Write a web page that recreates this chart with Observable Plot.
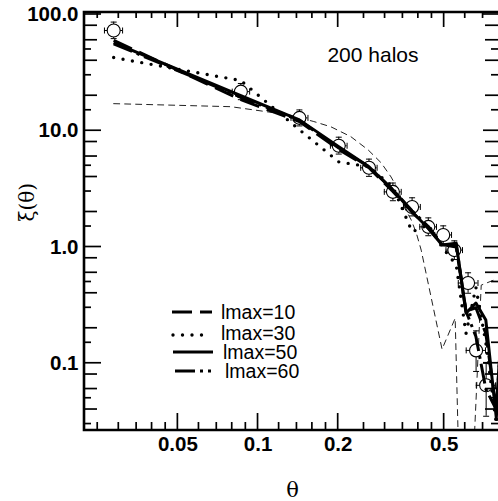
<!DOCTYPE html>
<html><head><meta charset="utf-8">
<script src="https://cdn.jsdelivr.net/npm/d3@7"></script>
<script src="https://cdn.jsdelivr.net/npm/@observablehq/plot@0.6"></script>
<style>body{margin:0;background:#fff} #chart{width:498px;height:501px}</style>
</head><body><div id="chart"></div>
<script>
// ---- observed points (open circles with error bars)
const thetaObs = [0.0287, 0.0862, 0.143, 0.201, 0.261, 0.321, 0.379, 0.436, 0.496, 0.546, 0.615, 0.659, 0.719];
const xiObs    = [72.8, 21.7, 12.9, 7.43, 4.80, 2.98, 2.21, 1.49, 1.27, 0.94, 0.49, 0.129, 0.0646];
const xiLo     = [62, 18.5, 11.0, 6.3, 4.05, 2.5, 1.85, 1.25, 1.06, 0.78, 0.40, 0.085, 0.035];
const xiHi     = [86, 25.5, 15.1, 8.8, 5.7, 3.55, 2.65, 1.78, 1.52, 1.13, 0.60, 0.19, 0.10];
const thetaLo  = [0.0265, 0.080, 0.133, 0.187, 0.243, 0.298, 0.352, 0.405, 0.461, 0.508, 0.565, 0.605, 0.66];
const thetaHi  = [0.031, 0.093, 0.154, 0.216, 0.280, 0.345, 0.407, 0.468, 0.533, 0.586, 0.67, 0.715, 0.78];

// ---- reconstructed curves
const seriesNames = ["lmax=10", "lmax=30", "lmax=50", "lmax=60"];
const lineTheta = [0.0287, 0.0862, 0.143, 0.201, 0.261, 0.321, 0.379, 0.436, 0.491, 0.555, 0.604, 0.658, 0.717, 0.785, 0.83];
const lmax10 = [60, 18.5, 12.0, 6.9, 4.8, 3.0, 2.0, 1.45, 1.05, 1.0, 0.28, 0.30, 0.18, 0.04, 0.3];
const lmax30 = [42.6, 27, 10.2, 5.4, 4.9, 3.3, 1.35, 1.55, 1.0, 0.7, 0.18, 0.45, 0.15, 0.03, 0.2];
const lmax50 = [57.4, 20.0, 12.4, 7.3, 4.9, 3.1, 2.0, 1.45, 1.04, 1.08, 0.27, 0.33, 0.235, 0.034, 0.3];
const lmax60 = [56, 19.5, 12.3, 7.1, 4.9, 3.1, 2.05, 1.5, 1.05, 1.05, 0.28, 0.17, 0.06, 0.04, 0.3];
const seriesValues = [lmax10, lmax30, lmax50, lmax60];

// ---- thin dashed reference curve
const modelTheta = [0.0287, 0.0791, 0.1306, 0.162, 0.188, 0.223, 0.259, 0.290, 0.316, 0.336, 0.354, 0.376, 0.393, 0.410, 0.491, 0.55, 0.574, 0.63, 0.689, 0.77];
const modelXi    = [17.1, 16.1, 13.7, 12.0, 10.8, 8.9, 6.85, 5.3, 4.0, 3.1, 2.2, 1.71, 1.32, 0.94, 0.132, 0.244, 0.005, 0.005, 0.47, 0.52];

// ---- ticks
const xMajor = [0.05, 0.1, 0.2, 0.5];
const xMinor = [0.025, 0.03, 0.035, 0.04, 0.045, 0.06, 0.07, 0.08, 0.09, 0.12, 0.14, 0.16, 0.18, 0.25, 0.3, 0.35, 0.4, 0.45, 0.6, 0.7];
const yMajor = [0.1, 1, 10, 100];
const yMinorLong = [0.04, 0.06, 0.08, 0.2, 0.4, 0.6, 0.8, 2, 4, 6, 8, 20, 40, 60, 80];
const yMinorShort = [0.03, 0.05, 0.15, 0.3, 0.5, 1.5, 3, 5, 15, 30, 50];

const styles = {
  "lmax=10": {dash: "20,8", cap: "butt", w: 3},
  "lmax=30": {dash: "0,9.5", cap: "round", w: 3.4},
  "lmax=50": {dash: null, cap: "butt", w: 3},
  "lmax=60": {dash: "20,5,3,5", cap: "butt", w: 3}
};

const obs = thetaObs.map((t, i) => ({t, xi: xiObs[i], lo: xiLo[i], hi: xiHi[i], tlo: thetaLo[i], thi: thetaHi[i]}));
const model = modelTheta.map((t, i) => ({t, v: modelXi[i]}));

const hCap = {draw(ctx, size) { const r = Math.sqrt(size / Math.PI); ctx.moveTo(-r, 0); ctx.lineTo(r, 0); }};
const vCap = {draw(ctx, size) { const r = Math.sqrt(size / Math.PI); ctx.moveTo(0, -r); ctx.lineTo(0, r); }};

function ticksMark(index, scales, values, dims) {
  const {x, y} = scales;
  const L = dims.marginLeft, T = dims.marginTop, R = dims.width - dims.marginRight, B = dims.height - dims.marginBottom;
  const g = d3.create("svg:g").attr("stroke", "black").attr("fill", "none").attr("stroke-width", 1.7);
  const ln = (x1, y1, x2, y2) => g.append("line").attr("x1", x1).attr("y1", y1).attr("x2", x2).attr("y2", y2);
  for (const v of xMajor) { const p = x(v); ln(p, B, p, B - 17); ln(p, T, p, T + 15); }
  for (const v of xMinor) { const p = x(v); if (p > L && p < R) { ln(p, B, p, B - 8); ln(p, T, p, T + 6); } }
  for (const v of yMajor) { const p = y(v); ln(L, p, L + 17, p); ln(R, p, R - 15, p); }
  for (const v of yMinorLong) { const p = y(v); if (p > T && p < B) { ln(L, p, L + 13, p); ln(R, p, R - 13, p); } }
  for (const v of yMinorShort) { const p = y(v); if (p > T && p < B) { ln(L, p, L + 7, p); ln(R, p, R - 7, p); } }
  g.append("path").attr("stroke-width", 2.6).attr("d", `M${R + 1},${T}H${L}V${B}H${R + 1}`);
  return g.node();
}

function legendMark(index, scales, values, dims) {
  const rows = [
    {y: 312, x1: 172, x2: 212, tx: 221, ty: 312},
    {y: 335, x1: 173, x2: 211, tx: 221, ty: 333},
    {y: 352, x1: 173, x2: 213, tx: 223, ty: 352},
    {y: 371, x1: 175, x2: 211, tx: 225, ty: 371}
  ];
  const g = d3.create("svg:g").attr("text-anchor", "start");
  seriesNames.forEach((name, i) => {
    const r = rows[i], s = styles[name];
    const l = g.append("line").attr("x1", r.x1).attr("x2", r.x2).attr("y1", r.y).attr("y2", r.y)
      .attr("stroke", "black").attr("stroke-width", s.w).attr("stroke-linecap", s.cap);
    if (s.dash) l.attr("stroke-dasharray", s.dash);
    g.append("text").attr("x", r.tx).attr("y", r.ty).attr("dy", "0.35em").attr("text-anchor", "start")
      .attr("font-size", 19.5).attr("font-family", "Liberation Sans, Arial, sans-serif").attr("fill", "black").text(name);
  });
  return g.node();
}

const lineMarks = seriesNames.map((name, k) => {
  const s = styles[name];
  const data = lineTheta.map((t, i) => ({t, v: seriesValues[k][i]}));
  return Plot.line(data, {x: "t", y: "v", stroke: "black", strokeWidth: s.w, strokeDasharray: s.dash ?? undefined,
    strokeLinecap: s.cap, strokeLinejoin: "round", clip: true});
});

const chart = Plot.plot({
  width: 498, height: 501,
  marginLeft: 84, marginRight: 0, marginTop: 12, marginBottom: 71,
  x: {type: "log", domain: [0.0223, 0.80]},
  y: {type: "log", domain: [0.0264, 104]},
  style: {fontFamily: "Liberation Sans, Arial, sans-serif", background: "white", color: "black"},
  marks: [
    Plot.line(model, {x: "t", y: "v", stroke: "#222", strokeWidth: 1, strokeDasharray: "6,5", clip: true}),
    Plot.ruleX(obs, {x: "t", y1: "lo", y2: "hi", stroke: "black", strokeWidth: 1, clip: true}),
    Plot.ruleY(obs, {y: "xi", x1: "tlo", x2: "thi", stroke: "black", strokeWidth: 1, clip: true}),
    Plot.dot(obs, {x: "t", y: "lo", symbol: hCap, r: 3, stroke: "black", strokeWidth: 1, clip: true}),
    Plot.dot(obs, {x: "t", y: "hi", symbol: hCap, r: 3, stroke: "black", strokeWidth: 1, clip: true}),
    Plot.dot(obs, {x: "tlo", y: "xi", symbol: vCap, r: 3, stroke: "black", strokeWidth: 1, clip: true}),
    Plot.dot(obs, {x: "thi", y: "xi", symbol: vCap, r: 3, stroke: "black", strokeWidth: 1, clip: true}),
    Plot.dot(obs, {x: "t", y: "xi", r: 6.5, fill: "white", stroke: "black", strokeWidth: 1.1, clip: true}),
    ...lineMarks,
    ticksMark,
    Plot.axisX({ticks: xMajor, tickSize: 0, tickPadding: 6, tickFormat: d => String(d), fontSize: 20.5, fontWeight: "bold", label: null}),
    Plot.axisY({ticks: yMajor, tickSize: 0, tickPadding: 6, tickFormat: d => d >= 1 ? d.toFixed(1) : String(d), fontSize: 20.5, fontWeight: "bold", label: null}),
    Plot.text(["200 halos"], {frameAnchor: "top-right", dx: -80, dy: 43, textAnchor: "end", lineAnchor: "middle", fontSize: 21}),
    Plot.text(["θ"], {frameAnchor: "bottom", dx: 1, dy: 60, lineAnchor: "middle", fontSize: 21, fontFamily: "DejaVu Serif, serif"}),
    Plot.text(["ξ(θ)"], {frameAnchor: "left", dx: -57, dy: 0, rotate: -90, lineAnchor: "middle", fontSize: 20, fontFamily: "DejaVu Serif, serif"}),
    legendMark
  ]
});
document.getElementById("chart").appendChild(chart);
</script>
</body></html>
